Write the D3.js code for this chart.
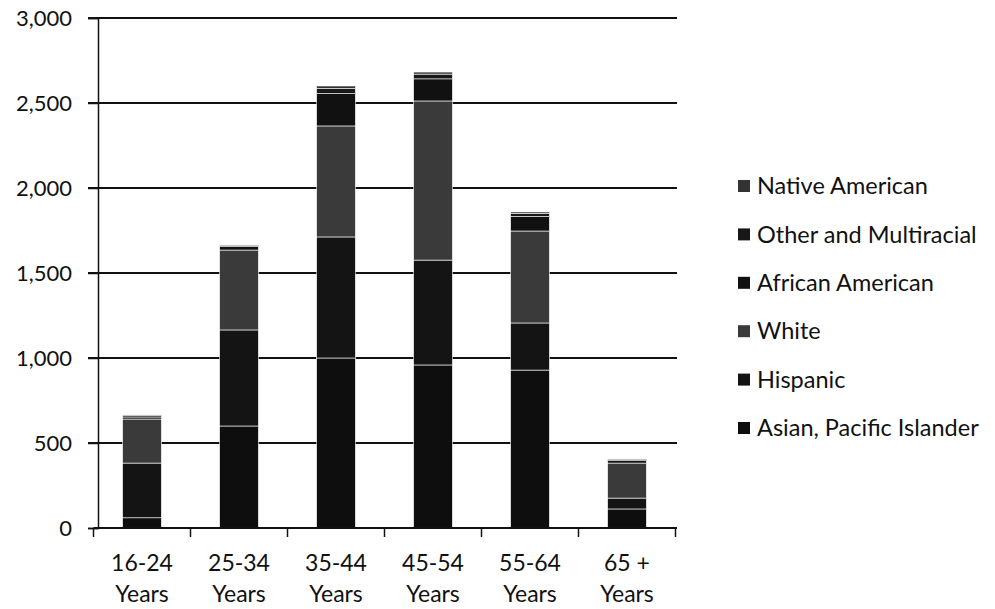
<!DOCTYPE html>
<html><head><meta charset="utf-8">
<script src="https://cdn.jsdelivr.net/npm/d3@7"></script>
<style>body{margin:0;background:#fff}svg{display:block}</style>
</head><body><svg id="c" width="995" height="609"></svg>
<script>
const categories = ["16-24 Years","25-34 Years","35-44 Years","45-54 Years","55-64 Years","65 + Years"];
const seriesNames = ["Asian, Pacific Islander","Hispanic","White","African American","Other and Multiracial","Native American"];
const asian    = [60, 600, 1000, 959, 929, 112];
const hispanic = [322, 565, 712, 617, 277, 64];
const white    = [259, 470, 653, 936, 541, 206];
const african  = [12, 20, 190, 130, 85, 14];
const other    = [8, 6, 30, 28, 18, 6];
const native   = [4, 4, 15, 12, 9, 4];
const yTicks = [0, 500, 1000, 1500, 2000, 2500, 3000];
const colors = ["#0e0e0e","#141414","#3a3a3a","#111111","#181818","#333333"];

const values = [asian, hispanic, white, african, other, native];
const rows = categories.map((c,i)=>{const r={cat:c}; seriesNames.forEach((s,k)=>r[s]=values[k][i]); return r;});
const stack = d3.stack().keys(seriesNames)(rows);

const svg = d3.select("#c");
const font = "Lato, 'Open Sans', sans-serif";
const x = d3.scaleBand().domain(categories).range([93.5, 675.5]).paddingInner(0.6).paddingOuter(0.3);
const y = d3.scaleLinear().domain([0,3000]).range([528,18]);

// gridlines
svg.append("g").selectAll("line").data(yTicks.slice(1)).join("line")
  .attr("x1",88).attr("x2",677).attr("y1",d=>y(d)).attr("y2",d=>y(d))
  .attr("stroke","#111").attr("stroke-width",2);

// bars
svg.append("g").selectAll("g").data(stack).join("g").attr("fill",(d,i)=>colors[i])
  .selectAll("rect").data(d=>d).join("rect")
  .attr("x",d=>x(d.data.cat)).attr("width",x.bandwidth())
  .attr("y",d=>y(d[1])).attr("height",d=>Math.max(0,y(d[0])-y(d[1])))
  .attr("stroke","#fff").attr("stroke-width",0.6);

// y axis
const yAxis = d3.axisLeft(y).tickValues(yTicks).tickSize(10).tickFormat(d3.format(","));
const gy = svg.append("g").attr("transform","translate(98,0)").call(yAxis);
gy.select(".domain").attr("stroke","#111").attr("stroke-width",1.5);
gy.selectAll(".tick line").attr("stroke","#111").attr("stroke-width",1.5);
gy.selectAll("text").attr("font-family",font).attr("font-size",22).attr("fill","#111").attr("x",-26);

// x axis
const gx = svg.append("g").attr("transform","translate(0,528)");
gx.append("line").attr("x1",93.5).attr("x2",677).attr("stroke","#111").attr("stroke-width",2);
gx.selectAll(".t").data(d3.range(categories.length+1)).join("line")
  .attr("x1",i=>93.5+i*(582/6)).attr("x2",i=>93.5+i*(582/6)).attr("y1",0).attr("y2",9)
  .attr("stroke","#111").attr("stroke-width",1.5);
const lbl = gx.selectAll(".l").data(categories).join("text")
  .attr("text-anchor","middle")
  .attr("font-family",font).attr("font-size",23).attr("fill","#111");
lbl.append("tspan").attr("x",d=>x(d)+x.bandwidth()/2).attr("y",43).text(d=>d.replace(" Years",""));
lbl.append("tspan").attr("x",d=>x(d)+x.bandwidth()/2).attr("y",74).text("Years");

// legend
const legendOrder = seriesNames.slice().reverse();
const lg = svg.append("g").selectAll("g").data(legendOrder).join("g")
  .attr("transform",(d,i)=>`translate(738,${186+i*48.4})`);
lg.append("rect").attr("x",0).attr("y",-6).attr("width",12).attr("height",12)
  .attr("fill",d=>colors[seriesNames.indexOf(d)]);
lg.append("text").attr("x",19).attr("y",0).attr("dy","0.35em")
  .attr("font-family",font).attr("font-size",23.5).attr("fill","#111").text(d=>d);
</script></body></html>
